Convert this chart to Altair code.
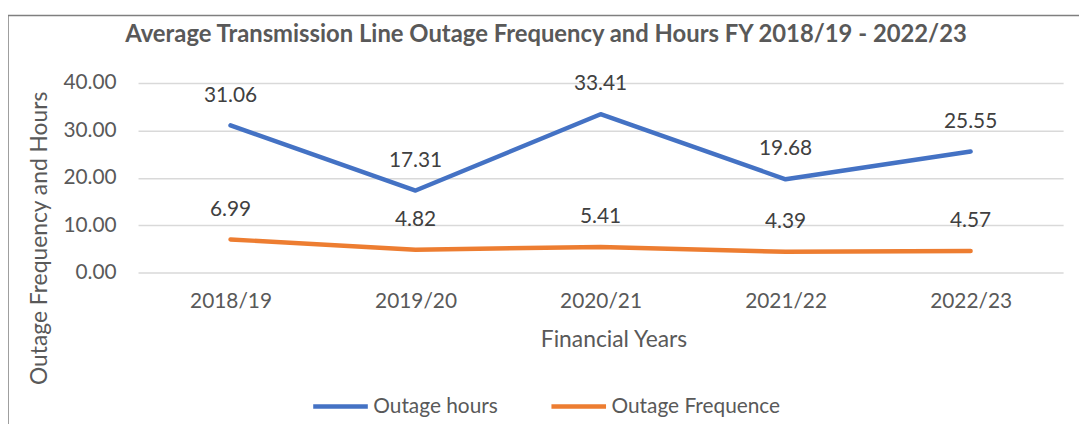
import altair as alt
import pandas as pd

years = ["2018/19", "2019/20", "2020/21", "2021/22", "2022/23"]
hours = [31.06, 17.31, 33.41, 19.68, 25.55]
freq = [6.99, 4.82, 5.41, 4.39, 4.57]
series_names = ["Outage hours", "Outage Frequence"]
series_colors = ["#4472C4", "#ED7D31"]

rows = []
for y, h in zip(years, hours):
    rows.append({"year": y, "series": series_names[0], "value": h})
for y, f in zip(years, freq):
    rows.append({"year": y, "series": series_names[1], "value": f})
df = pd.DataFrame(rows)

FONT = "Lato"
TXT = "#595959"
W, H = 932, 191

x = alt.X(
    "year:N",
    sort=years,
    scale=alt.Scale(type="point", padding=0.5),
    axis=alt.Axis(
        title="Financial Years",
        labelAngle=0,
        labelFontSize=21,
        labelColor=TXT,
        labelFont=FONT,
        labelPadding=18,
        ticks=False,
        domain=False,
        titleFontSize=23,
        titleFontWeight="normal",
        titleColor=TXT,
        titleFont=FONT,
        titleX=479,
        titleY=67,
        titleBaseline="middle",
        titleAlign="center",
    ),
)
y = alt.Y(
    "value:Q",
    scale=alt.Scale(domain=[0, 40]),
    axis=alt.Axis(
        title="Outage Frequency and Hours",
        format=".2f",
        values=[0, 10, 20, 30, 40],
        labelFontSize=21,
        labelColor=TXT,
        labelFont=FONT,
        labelPadding=22,
        ticks=False,
        domain=False,
        gridColor="#D9D9D9",
        gridWidth=1.5,
        titleFontSize=23,
        titleFontWeight="normal",
        titleColor=TXT,
        titleFont=FONT,
        titleAngle=270,
        titleX=-99,
        titleY=156,
        titleAlign="center",
        titleBaseline="middle",
    ),
)
color = alt.Color(
    "series:N",
    sort=series_names,
    scale=alt.Scale(domain=series_names, range=series_colors),
    legend=alt.Legend(
        title=None,
        orient="none",
        legendX=174,
        legendY=296,
        direction="horizontal",
        symbolType="stroke",
        symbolSize=3025,
        symbolStrokeWidth=4.5,
        labelFontSize=21,
        labelColor=TXT,
        labelFont=FONT,
        labelOffset=3,
        labelLimit=400,
        columnPadding=44,
    ),
)

base = alt.Chart(df)
lines = base.mark_line(strokeWidth=4.5, strokeCap="round", strokeJoin="round").encode(
    x=x, y=y, color=color
)
labels = base.mark_text(
    dy=-30, baseline="middle", align="center", fontSize=21, font=FONT, color="#404040"
).encode(x=alt.X("year:N", sort=years), y="value:Q", text=alt.Text("value:Q", format=".2f"))

frame = alt.Chart(pd.DataFrame({"a": [0]})).mark_rect(
    fill=None, stroke="#7F7F7F", strokeWidth=1.5
).encode(
    x=alt.value(-131), x2=alt.value(W + 40), y=alt.value(-68), y2=alt.value(H + 200)
)

chart = (
    alt.layer(frame, lines, labels)
    .properties(
        width=W,
        height=H,
        autosize=alt.AutoSizeParams(type="none"),
        padding={"left": 131, "top": 74, "right": 16, "bottom": 151},
        title=alt.TitleParams(
            "Average Transmission  Line Outage Frequency and Hours FY 2018/19 - 2022/23",
            font=FONT,
            fontSize=24,
            fontWeight="bold",
            color=TXT,
            anchor="middle",
            frame="group",
            dx=-55,
            offset=-32,
        ),
    )
    .configure_view(stroke=None)
)

chart.save("out.html", embed_options={"renderer": "svg", "actions": False})
